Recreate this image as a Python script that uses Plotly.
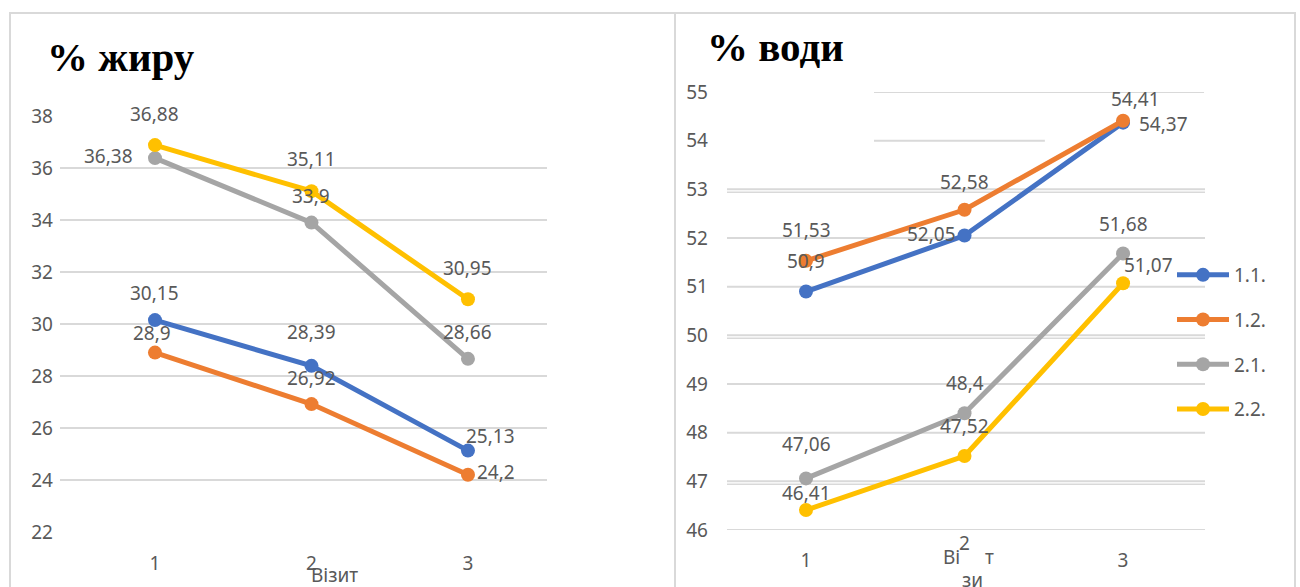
import plotly.graph_objects as go

# ---- data -------------------------------------------------------------
visits = [1, 2, 3]
visit_labels = ["1", "2", "3"]
series_names = ["1.1.", "1.2.", "2.1.", "2.2."]

fat_11 = [30.15, 28.39, 25.13]
fat_12 = [28.9, 26.92, 24.2]
fat_21 = [36.38, 33.9, 28.66]
fat_22 = [36.88, 35.11, 30.95]

water_11 = [50.9, 52.05, 54.37]
water_12 = [51.53, 52.58, 54.41]
water_21 = [47.06, 48.4, 51.68]
water_22 = [46.41, 47.52, 51.07]

fat_ticks = [22, 24, 26, 28, 30, 32, 34, 36, 38]
water_ticks = [46, 47, 48, 49, 50, 51, 52, 53, 54, 55]

# ---- styling ----------------------------------------------------------
W, H = 1300, 587
colors = ["#4472C4", "#ED7D31", "#A5A5A5", "#FFC000"]
text_col = "#595959"
grid_col = "#D9D9D9"
tick_font = dict(family="Noto Sans", size=19, color=text_col)
title_font = dict(family="Liberation Serif", size=41, color="black")

fat_series = [fat_11, fat_12, fat_21, fat_22]
water_series = [water_11, water_12, water_21, water_22]

# label offsets in px (dx, dy up) for every point of every series
fat_offsets = [
    [(0, 27), (0, 34), (23, 15)],
    [(-3, 20), (0, 26), (28, 3)],
    [(-46, 2), (0, 27), (0, 27)],
    [(0, 31), (0, 32), (0, 31)],
]
water_offsets = [
    [(0, 31), (-33, 2), (40, -1)],
    [(0, 31), (0, 28), (12, 22)],
    [(0, 34), (0, 30), (0, 30)],
    [(0, 17), (0, 30), (25, 18)],
]


def px_x(p):
    return p / W


def px_y(p):
    return 1 - p / H


fig = go.Figure()

# fat panel (no legend)
for name, vals, col in zip(series_names, fat_series, colors):
    fig.add_trace(go.Scatter(
        x=visits, y=vals, name=name, mode="lines+markers",
        line=dict(color=col, width=5), marker=dict(color=col, size=14),
        xaxis="x", yaxis="y", showlegend=False, hoverinfo="skip"))

# water panel (with legend)
for name, vals, col in zip(series_names, water_series, colors):
    fig.add_trace(go.Scatter(
        x=visits, y=vals, name=name, mode="lines+markers",
        line=dict(color=col, width=5), marker=dict(color=col, size=14),
        xaxis="x2", yaxis="y2", legendgroup=name, hoverinfo="skip"))

annotations = []


def add_labels(series, offsets, xref, yref):
    for vals, offs in zip(series, offsets):
        for xv, yv, (dx, dy) in zip(visits, vals, offs):
            annotations.append(dict(
                x=xv, y=yv, xref=xref, yref=yref,
                text=f"{yv:g}".replace(".", ","), showarrow=False,
                xanchor="center", yanchor="middle",
                xshift=dx, yshift=dy, font=tick_font))


add_labels(fat_series, fat_offsets, "x", "y")
add_labels(water_series, water_offsets, "x2", "y2")

# panel titles
annotations.append(dict(text="<b>% жиру</b>", x=px_x(45), y=px_y(57), xref="paper",
                        yref="paper", xanchor="left", yanchor="middle",
                        showarrow=False, font=title_font))
annotations.append(dict(text="<b>% води</b>", x=px_x(705), y=px_y(47), xref="paper",
                        yref="paper", xanchor="left", yanchor="middle",
                        showarrow=False, font=title_font))

# axis titles
annotations.append(dict(text="Візит", x=px_x(335), y=px_y(575), xref="paper",
                        yref="paper", xanchor="center", yanchor="middle",
                        showarrow=False, font=tick_font))
annotations.append(dict(text=visit_labels[1], x=visits[1], y=px_y(543), xref="x2",
                        yref="paper", xanchor="center", yanchor="middle",
                        showarrow=False, font=tick_font))
for t, xp, yp in [("Ві", 951, 557), ("т", 989, 557), ("зи", 972, 580)]:
    annotations.append(dict(text=t, x=px_x(xp), y=px_y(yp), xref="paper",
                            yref="paper", xanchor="center", yanchor="middle",
                            showarrow=False, font=tick_font))

# frame around both panels and the divider between them
shapes = [
    dict(type="rect", xref="paper", yref="paper",
         x0=px_x(10), x1=px_x(1295), y0=px_y(620), y1=px_y(13),
         line=dict(color=grid_col, width=2)),
    dict(type="line", xref="paper", yref="paper",
         x0=px_x(675), x1=px_x(675), y0=px_y(620), y1=px_y(13),
         line=dict(color=grid_col, width=2)),
]

# water panel gridlines (upper two are shorter)
for t in water_ticks:
    if t == 55:
        x0, x1 = 0.3075, 0.998
    elif t == 54:
        x0, x1 = 0.3075, 0.665
    else:
        x0, x1 = 0, 1
    shapes.append(dict(type="line", xref="x2 domain", yref="y2", x0=x0, x1=x1,
                       y0=t, y1=t, line=dict(color=grid_col, width=2), layer="below"))
    if t in (47, 50, 53):
        shapes.append(dict(type="line", xref="x2 domain", yref="y2", x0=0, x1=1,
                           ysizemode="pixel", yanchor=t, y0=-3, y1=-3,
                           line=dict(color=grid_col, width=1.5), layer="below"))

axis_common = dict(zeroline=False, showline=False, ticks="", automargin=False,
                   tickfont=tick_font)

fig.update_layout(
    width=W, height=H,
    margin=dict(l=0, r=0, t=0, b=0, pad=0, autoexpand=False),
    paper_bgcolor="white", plot_bgcolor="white",
    font=tick_font,
    xaxis=dict(domain=[px_x(60), px_x(547)], range=[0.393, 3.505],
               tickvals=visits, ticktext=visit_labels, showgrid=False,
               ticklabelstandoff=18, **axis_common),
    yaxis=dict(domain=[px_y(532), px_y(116)], range=[22, 38],
               tickvals=fat_ticks, showgrid=True, gridcolor=grid_col, gridwidth=2,
               ticklabelstandoff=6, **axis_common),
    xaxis2=dict(domain=[px_x(727), px_x(1205)], range=[0.5016, 3.517],
                tickvals=visits, ticktext=[visit_labels[0], "", visit_labels[2]],
                showgrid=False, ticklabelstandoff=17, anchor="y2", **axis_common),
    yaxis2=dict(domain=[px_y(530), px_y(92)], range=[46, 55],
                tickvals=water_ticks, showgrid=False, ticklabelstandoff=18,
                anchor="x2", **axis_common),
    legend=dict(x=px_x(1172), y=px_y(256), xanchor="left", yanchor="top",
                traceorder="grouped", tracegroupgap=17, itemwidth=52,
                font=tick_font, bgcolor="rgba(0,0,0,0)",
                itemclick=False, itemdoubleclick=False),
    annotations=annotations,
    shapes=shapes,
)

fig.write_html("out.html")
